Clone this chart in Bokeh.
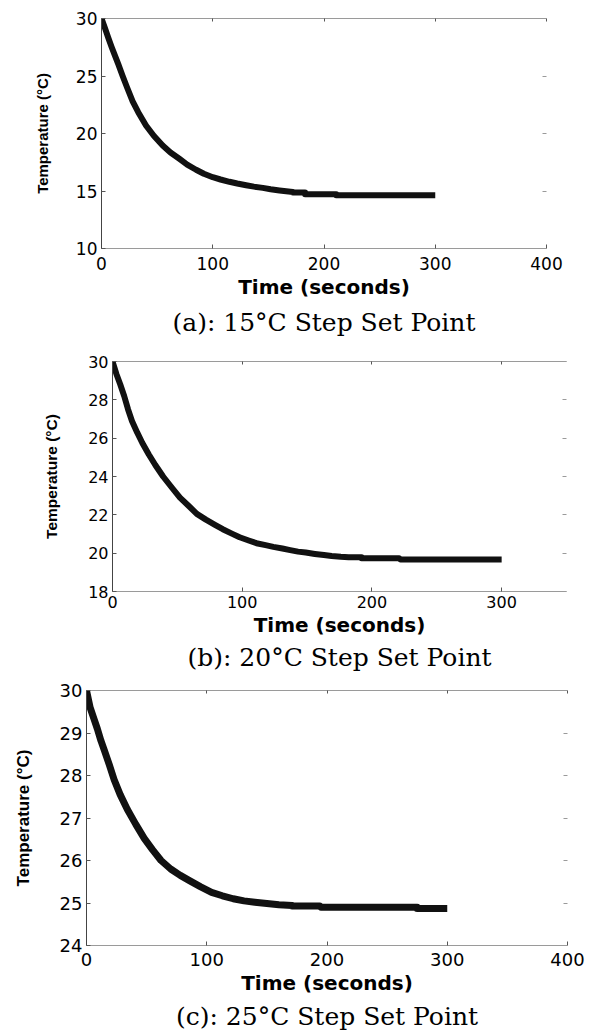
from bokeh.plotting import figure
from bokeh.models import Range1d, LinearAxis, FixedTicker, CustomJSTickFormatter
from bokeh.layouts import column
from bokeh.embed import file_html
from bokeh.resources import INLINE

# ---------------- data ----------------
time_a = [0, 3, 6, 9, 12, 15, 19, 23, 28, 33, 40, 47, 55, 62, 70, 77, 85, 92, 100, 107, 115,
          122, 130, 137, 145, 152, 160, 166, 172, 172, 183, 183, 211, 211, 300]
temp_a = [30.0, 29.2, 28.35, 27.55, 26.8, 26.05, 25.0, 24.0, 22.8, 21.85, 20.7, 19.8, 18.95,
          18.35, 17.8, 17.3, 16.85, 16.5, 16.2, 16.0, 15.8, 15.65, 15.5, 15.38, 15.27, 15.15,
          15.05, 14.98, 14.92, 14.87, 14.87, 14.72, 14.72, 14.62, 14.62]

time_b = [0, 3, 6, 9, 12, 15, 19, 23, 28, 33, 39, 46, 52, 59, 65, 72, 79, 85, 92, 98, 105, 111,
          118, 124, 131, 137, 143, 149, 156, 163, 169, 176, 182, 192, 192, 221, 222, 300]
temp_b = [30.0, 29.35, 28.8, 28.2, 27.5, 26.9, 26.3, 25.75, 25.15, 24.6, 24.0, 23.4, 22.9,
          22.45, 22.05, 21.75, 21.48, 21.25, 21.02, 20.83, 20.66, 20.52, 20.42, 20.33, 20.24,
          20.16, 20.08, 20.03, 19.96, 19.9, 19.85, 19.81, 19.79, 19.79, 19.73, 19.73, 19.67, 19.67]

time_c = [0, 3, 6, 9, 12, 15, 19, 23, 28, 34, 41, 48, 55, 62, 70, 78, 86, 95, 104, 113, 122,
          131, 140, 150, 160, 171, 171, 194, 195, 275, 275, 300]
temp_c = [30.0, 29.6, 29.35, 29.1, 28.82, 28.58, 28.25, 27.9, 27.55, 27.2, 26.85, 26.52, 26.25,
          26.0, 25.8, 25.65, 25.52, 25.38, 25.25, 25.17, 25.1, 25.05, 25.02, 24.99, 24.96, 24.94,
          24.93, 24.93, 24.9, 24.9, 24.87, 24.87]

xticks_a = [0, 100, 200, 300, 400]
yticks_a = [10, 15, 20, 25, 30]
xticks_b = [0, 100, 200, 300]
yticks_b = [18, 20, 22, 24, 26, 28, 30]
xticks_c = [0, 100, 200, 300, 400]
yticks_c = [24, 25, 26, 27, 28, 29, 30]

xlabel = "Time (seconds)"
ylabel = "Temperature (°C)"
caption_a = "(a): 15°C Step Set Point"
caption_b = "(b): 20°C Step Set Point"
caption_c = "(c): 25°C Step Set Point"

blank = CustomJSTickFormatter(code="return ''")


def make_panel(t, T, xr, yr, xt, yt, caption, width, height, bl, br, bt, bb,
               tick_fs, xlab_fs, ylab_fs, cap_fs, lw, ylab_standoff, xtick_standoff,
               title_standoff):
    p = figure(width=width, height=height, x_range=Range1d(*xr), y_range=Range1d(*yr),
               output_backend="svg", toolbar_location=None,
               min_border_left=bl, min_border_right=br, min_border_top=bt, min_border_bottom=bb,
               title=caption, title_location="below")
    p.frame_align = False
    p.grid.visible = False
    p.outline_line_color = None
    p.background_fill_color = "white"
    p.border_fill_color = "white"

    p.title.align = "center"
    p.title.text_font = "DejaVu Serif"
    p.title.text_font_size = cap_fs
    p.title.text_font_style = "normal"
    p.title.text_color = "black"
    p.title.standoff = title_standoff

    xa = p.xaxis[0]
    xa.ticker = FixedTicker(ticks=xt)
    xa.axis_label = xlabel
    xa.axis_label_text_font = "DejaVu Sans"
    xa.axis_label_text_font_style = "bold"
    xa.axis_label_text_font_size = xlab_fs
    xa.axis_label_text_color = "black"
    xa.axis_label_standoff = 2
    xa.major_label_text_font = "DejaVu Sans"
    xa.major_label_text_font_size = tick_fs
    xa.major_label_text_color = "black"
    xa.major_label_standoff = xtick_standoff
    xa.major_tick_in = 4
    xa.major_tick_out = 0
    xa.minor_tick_line_color = None
    xa.major_tick_line_color = "#555555"
    xa.axis_line_color = "#9a9a9a"

    ya = p.yaxis[0]
    ya.ticker = FixedTicker(ticks=yt)
    ya.axis_label = ylabel
    ya.axis_label_text_font = "Liberation Sans"
    ya.axis_label_text_font_style = "bold"
    ya.axis_label_text_font_size = ylab_fs
    ya.axis_label_text_color = "black"
    ya.axis_label_standoff = ylab_standoff
    ya.major_label_text_font = "DejaVu Sans"
    ya.major_label_text_font_size = tick_fs
    ya.major_label_text_color = "black"
    ya.major_label_standoff = 4
    ya.major_tick_in = 4
    ya.major_tick_out = 0
    ya.minor_tick_line_color = None
    ya.major_tick_line_color = "#555555"
    ya.axis_line_color = "#444444"

    top = LinearAxis(ticker=FixedTicker(ticks=xt), formatter=blank,
                     major_label_standoff=0, major_tick_in=3, major_tick_out=0,
                     minor_tick_line_color=None, major_tick_line_color="#555555",
                     axis_line_color="#9a9a9a")
    p.add_layout(top, "above")
    right = LinearAxis(ticker=FixedTicker(ticks=yt), formatter=blank,
                       major_label_standoff=0, major_tick_in=4, major_tick_out=0,
                       minor_tick_line_color=None, major_tick_line_color="#9a9a9a",
                       axis_line_color=None)
    p.add_layout(right, "right")

    p.line(t, T, line_color="#111111", line_width=lw, line_join="round", line_cap="butt")
    return p


pa = make_panel(time_a, temp_a, (0, 400), (10, 30), xticks_a, yticks_a, caption_a,
                585, 340, 101, 39, 18, 89, "17px", "20px", "15px", "25px", 6, 22, 8, 8)
pb = make_panel(time_b, temp_b, (0, 350), (18, 30), xticks_b, yticks_b, caption_b,
                585, 334, 112, 19, 21, 83, "16px", "20px", "15.5px", "25px", 6, 25, 4, 3)
pc = make_panel(time_c, temp_c, (0, 400), (24, 30), xticks_c, yticks_c, caption_c,
                585, 362, 86, 18, 16, 91, "18px", "20px", "17px", "25px", 7, 24, 7, 4)

layout = column(pa, pb, pc, spacing=0)
open("out.html", "w").write(file_html(layout, INLINE))
